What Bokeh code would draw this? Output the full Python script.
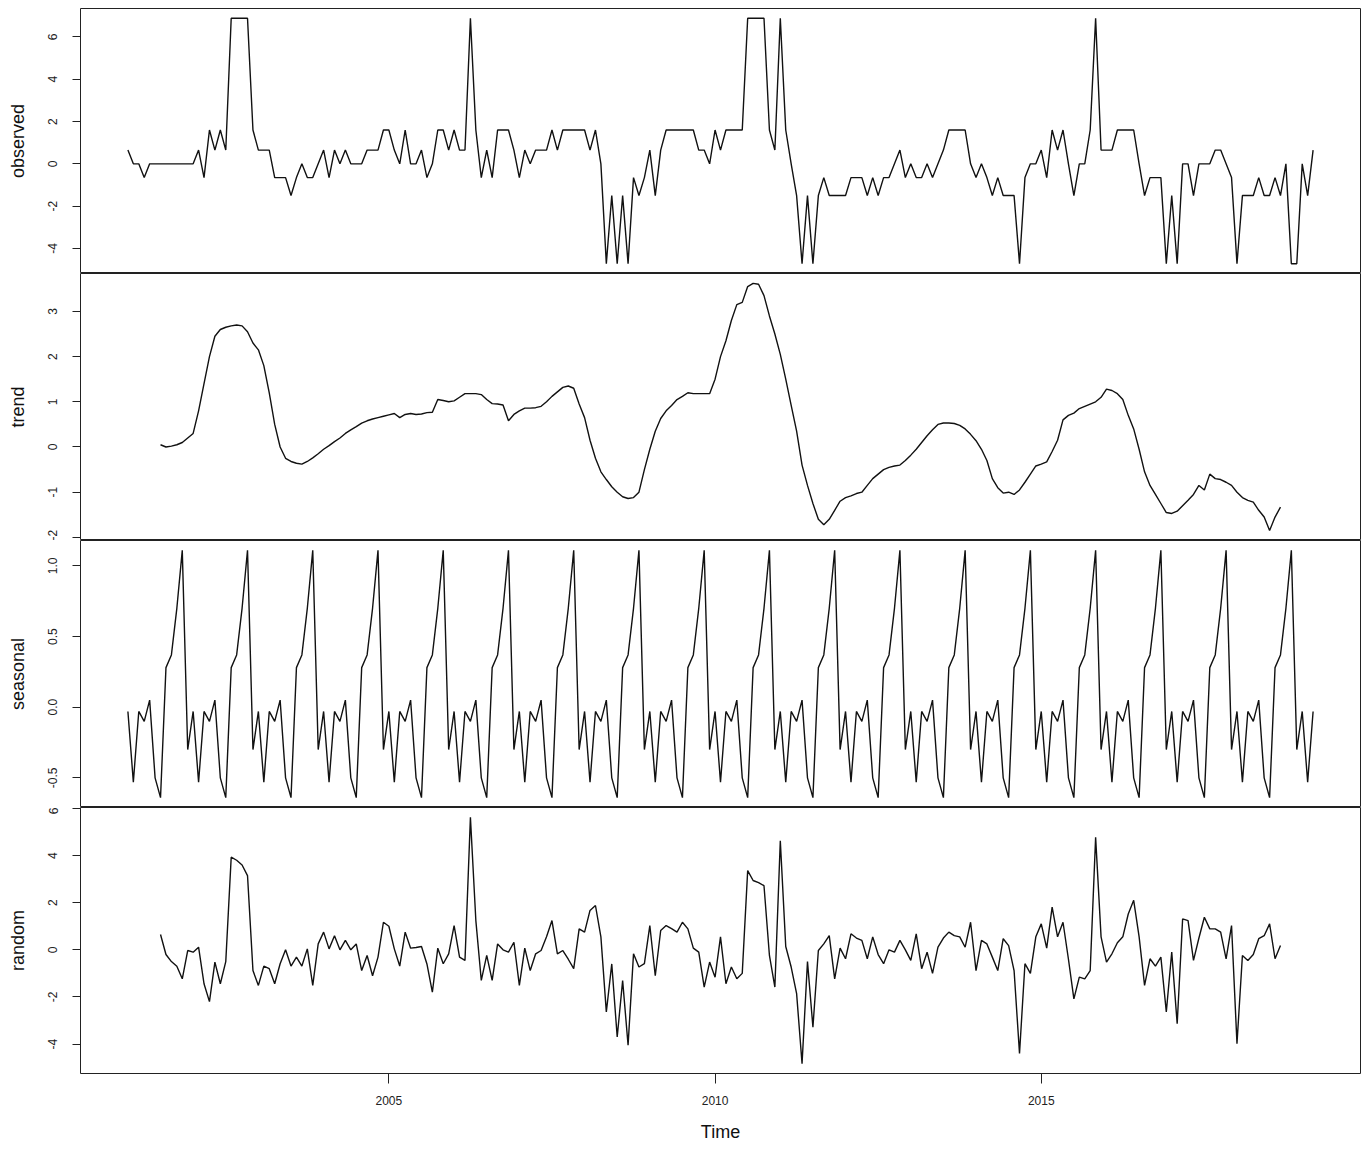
from bokeh.plotting import figure
from bokeh.layouts import column
from bokeh.models import Range1d, FixedTicker, CustomJSTickFormatter
from bokeh.embed import file_html
from bokeh.resources import INLINE

# ---- data (monthly series, Jan 2001 - Mar 2019) ----
start_year = 2001
months_per_year = 12

observed = [
    0.65, 0, 0, -0.65, 0, 0, 0, 0, 0, 0, 0, 0, 0, 0.65, -0.65, 1.6, 0.65, 1.6, 0.65, 6.88,
    6.88, 6.88, 6.88, 1.6, 0.65, 0.65, 0.65, -0.65, -0.65, -0.65, -1.5, -0.65, 0, -0.65, -0.65, 0, 0.65, -0.65, 0.65, 0,
    0.65, 0, 0, 0, 0.65, 0.65, 0.65, 1.6, 1.6, 0.65, 0, 1.6, 0, 0, 0.65, -0.65, 0, 1.6, 1.6, 0.65,
    1.6, 0.65, 0.65, 6.88, 1.6, -0.65, 0.65, -0.65, 1.6, 1.6, 1.6, 0.65, -0.65, 0.65, 0, 0.65, 0.65, 0.65, 1.6, 0.65,
    1.6, 1.6, 1.6, 1.6, 1.6, 0.65, 1.6, 0, -4.72, -1.5, -4.72, -1.5, -4.72, -0.65, -1.5, -0.65, 0.65, -1.5, 0.65, 1.6,
    1.6, 1.6, 1.6, 1.6, 1.6, 0.65, 0.65, 0, 1.6, 0.65, 1.6, 1.6, 1.6, 1.6, 6.88, 6.88, 6.88, 6.88, 1.6, 0.65,
    6.88, 1.6, 0, -1.5, -4.72, -1.5, -4.72, -1.5, -0.65, -1.5, -1.5, -1.5, -1.5, -0.65, -0.65, -0.65, -1.5, -0.65, -1.5, -0.65,
    -0.65, 0, 0.65, -0.65, 0, -0.65, -0.65, 0, -0.65, 0, 0.65, 1.6, 1.6, 1.6, 1.6, 0, -0.65, 0, -0.65, -1.5,
    -0.65, -1.5, -1.5, -1.5, -4.72, -0.65, 0, 0, 0.65, -0.65, 1.6, 0.65, 1.6, 0, -1.5, 0, 0, 1.6, 6.88, 0.65,
    0.65, 0.65, 1.6, 1.6, 1.6, 1.6, 0, -1.5, -0.65, -0.65, -0.65, -4.72, -1.5, -4.72, 0, 0, -1.5, 0, 0, 0,
    0.65, 0.65, 0, -0.65, -4.72, -1.5, -1.5, -1.5, -0.65, -1.5, -1.5, -0.65, -1.5, 0, -4.72, -4.72, 0, -1.5, 0.65,
]

# trend and random are undefined for the first and last 6 months
trend_offset = 6
trend = [
    0.05, 0.0, 0.02, 0.05, 0.1, 0.2, 0.3, 0.8, 1.4, 2.0, 2.45, 2.6, 2.65, 2.68, 2.7, 2.68, 2.55, 2.3, 2.15, 1.8,
    1.2, 0.5, 0.0, -0.25, -0.32, -0.36, -0.38, -0.32, -0.24, -0.15, -0.05, 0.03, 0.12, 0.2, 0.3, 0.38, 0.45, 0.53, 0.58, 0.62,
    0.65, 0.68, 0.71, 0.74, 0.65, 0.72, 0.74, 0.72, 0.73, 0.76, 0.77, 1.05, 1.03, 1.0, 1.02, 1.1, 1.18, 1.18, 1.18, 1.16,
    1.05, 0.96, 0.95, 0.93, 0.58, 0.72, 0.8, 0.86, 0.86, 0.87, 0.9, 1.0, 1.12, 1.22, 1.32, 1.35, 1.3, 0.95, 0.65, 0.15,
    -0.25, -0.55, -0.72, -0.88, -1.0, -1.1, -1.14, -1.12, -1.0, -0.5, -0.05, 0.35, 0.63, 0.8, 0.92, 1.05, 1.12, 1.2, 1.18, 1.18,
    1.18, 1.18, 1.5, 2.0, 2.35, 2.8, 3.15, 3.2, 3.55, 3.62, 3.6, 3.35, 2.9, 2.5, 2.05, 1.5, 0.92, 0.35, -0.4, -0.85,
    -1.25, -1.6, -1.72, -1.6, -1.4, -1.2, -1.12, -1.08, -1.03, -1.0, -0.85, -0.7, -0.6, -0.5, -0.45, -0.42, -0.4, -0.3, -0.18, -0.05,
    0.1, 0.25, 0.38, 0.5, 0.53, 0.53, 0.52, 0.48, 0.4, 0.28, 0.14, -0.05, -0.3, -0.7, -0.9, -1.02, -1.0, -1.05, -0.95, -0.78,
    -0.6, -0.42, -0.38, -0.33, -0.1, 0.15, 0.6, 0.7, 0.75, 0.85, 0.9, 0.95, 1.0, 1.1, 1.28, 1.25, 1.18, 1.05, 0.7, 0.4,
    -0.05, -0.55, -0.85, -1.05, -1.25, -1.45, -1.47, -1.42, -1.3, -1.18, -1.05, -0.85, -0.95, -0.6, -0.7, -0.72, -0.78, -0.85, -1.0, -1.12,
    -1.18, -1.22, -1.4, -1.55, -1.85, -1.55, -1.33,
]

# seasonal factor for each calendar month (Jan..Dec)
seasonal_by_month = [-0.03, -0.53, -0.03, -0.1, 0.05, -0.5, -0.64, 0.28, 0.37, 0.7, 1.11, -0.3]

random = [
    0.65, -0.2, -0.5, -0.7, -1.23, -0.03, -0.1, 0.11, -1.44, -2.2, -0.52, -1.44, -0.5, 3.93, 3.8, 3.6, 3.15, -0.88, -1.51, -0.69,
    -0.8, -1.44, -0.59, 0.0, -0.69, -0.31, -0.69, 0.04, -1.51, 0.25, 0.75, 0.04, 0.6, 0.0, 0.4, 0.0, 0.25, -0.88, -0.24, -1.1,
    -0.31, 1.17, 1.0, 0.04, -0.69, 0.75, 0.07, 0.1, 0.14, -0.6, -1.8, 0.07, -0.59, -0.17, 1.03, -0.31, -0.45, 5.62, 1.24, -1.3,
    -0.24, -1.3, 0.25, 0.0, -0.1, 0.32, -1.51, 0.07, -0.88, -0.17, -0.03, 0.55, 1.24, -0.17, -0.03, -0.4, -0.8, 0.89, 0.75, 1.67,
    1.88, 0.55, -2.64, -0.6, -3.7, -1.3, -4.05, -0.17, -0.73, -0.59, 1.03, -1.1, 0.82, 1.03, 0.9, 0.75, 1.17, 0.89, 0.07, -0.1,
    -1.58, -0.52, -1.16, 0.55, -1.44, -0.73, -1.23, -1.0, 3.36, 2.94, 2.85, 2.72, -0.24, -1.58, 4.63, 0.14, -0.73, -1.86, -4.83, -0.5,
    -3.28, -0.03, 0.25, 0.6, -1.23, 0.07, -0.38, 0.68, 0.5, 0.4, -0.38, 0.55, -0.2, -0.59, 0.0, -0.1, 0.4, 0.0, -0.45, 0.68,
    -0.8, -0.1, -1.0, 0.11, 0.5, 0.75, 0.6, 0.55, 0.11, 1.17, -0.88, 0.4, 0.25, -0.31, -0.88, 0.47, 0.18, -0.88, -4.4, -0.59,
    -1.0, 0.55, 1.1, 0.07, 1.81, 0.55, 1.17, -0.4, -2.08, -1.16, -1.23, -0.88, 4.77, 0.55, -0.52, -0.17, 0.3, 0.55, 1.52, 2.1,
    0.55, -1.51, -0.38, -0.69, -0.31, -2.64, -0.1, -3.14, 1.31, 1.24, -0.45, 0.5, 1.38, 0.89, 0.89, 0.75, -0.38, 1.03, -3.98, -0.24,
    -0.45, -0.2, 0.47, 0.6, 1.1, -0.38, 0.18,
]

panel_names = ["observed", "trend", "seasonal", "random"]
x_ticks = [2005, 2010, 2015]
y_ticks = {
    "observed": [-4, -2, 0, 2, 4, 6],
    "trend": [-2, -1, 0, 1, 2, 3],
    "seasonal": [-0.5, 0.0, 0.5, 1.0],
    "random": [-4, -2, 0, 2, 4, 6],
}

# ---- derived series positions ----
n = len(observed)
time = [start_year + i / months_per_year for i in range(n)]
time_mid = time[trend_offset:trend_offset + len(trend)]
seasonal = [seasonal_by_month[i % 12] for i in range(n)]

series = {
    "observed": (time, observed),
    "trend": (time_mid, trend),
    "seasonal": (time, seasonal),
    "random": (time[trend_offset:trend_offset + len(random)], random),
}


def padded(lo, hi, frac=0.04):
    d = (hi - lo) * frac
    return lo - d, hi + d


x_lo, x_hi = padded(time[0], time[-1])
x_range = Range1d(x_lo, x_hi)

FONT = "Liberation Sans"
W = 1367
LEFT = 80
RIGHT = 7
heights = {"observed": 273, "trend": 267, "seasonal": 267, "random": 344}
tops = {"observed": 8, "trend": 0, "seasonal": 0, "random": 0}
bottoms = {"observed": 0, "trend": 0, "seasonal": 0, "random": 78}

figs = []
for name in panel_names:
    xs, ys = series[name]
    y_lo, y_hi = padded(min(ys), max(ys))
    is_last = name == "random"
    p = figure(
        width=W, height=heights[name], x_range=x_range, y_range=Range1d(y_lo, y_hi),
        output_backend="svg", toolbar_location=None,
        x_axis_location="below" if is_last else None,
        min_border_left=LEFT, min_border_right=RIGHT,
        min_border_top=tops[name], min_border_bottom=bottoms[name],
        background_fill_color="white", border_fill_color="white",
    )
    p.outline_line_color = "#222222"
    p.outline_line_width = 1.0
    p.xgrid.visible = False
    p.ygrid.visible = False
    p.line(xs, ys, line_color="#111111", line_width=1.4)

    ya = p.yaxis[0]
    ya.ticker = FixedTicker(ticks=y_ticks[name])
    dec = 1 if name == "seasonal" else 0
    ya.formatter = CustomJSTickFormatter(code="return tick.toFixed(%d);" % dec)
    ya.major_label_orientation = "vertical"
    ya.axis_label = name
    ya.axis_label_text_font = FONT
    ya.axis_label_text_font_style = "normal"
    ya.axis_label_text_font_size = "18px"
    ya.axis_label_text_color = "#111111"
    ya.axis_label_standoff = 18
    ya.major_label_text_font = FONT
    ya.major_label_text_font_size = "12px"
    ya.major_label_text_color = "#222222"
    ya.major_label_standoff = 15
    ya.major_tick_out = 8
    ya.major_tick_in = 0
    ya.major_tick_line_color = "#222222"
    ya.minor_tick_line_color = None
    ya.axis_line_color = None

    if is_last:
        xa = p.xaxis[0]
        xa.ticker = FixedTicker(ticks=x_ticks)
        xa.formatter = CustomJSTickFormatter(code="return tick.toFixed(0);")
        xa.axis_label = "Time"
        xa.axis_label_text_font = FONT
        xa.axis_label_text_font_style = "normal"
        xa.axis_label_text_font_size = "18px"
        xa.axis_label_text_color = "#111111"
        xa.axis_label_standoff = 14
        xa.major_label_text_font = FONT
        xa.major_label_text_font_size = "12px"
        xa.major_label_text_color = "#222222"
        xa.major_label_standoff = 12
        xa.major_tick_out = 10
        xa.major_tick_in = 0
        xa.major_tick_line_color = "#222222"
        xa.minor_tick_line_color = None
        xa.axis_line_color = None
    figs.append(p)

layout = column(*figs, spacing=0)
open("out.html", "w").write(file_html(layout, INLINE))
